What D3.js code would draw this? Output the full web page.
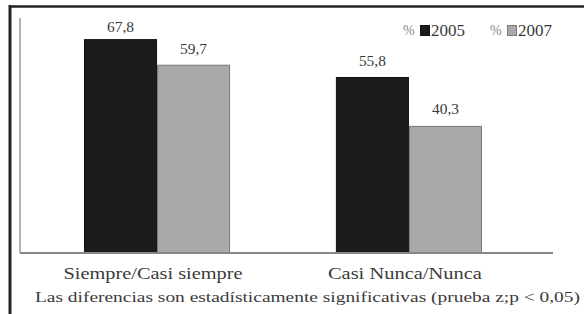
<!DOCTYPE html>
<html>
<head>
<meta charset="utf-8">
<script src="https://cdn.jsdelivr.net/npm/d3@7"></script>
<style>
  html, body { margin: 0; padding: 0; background: #fff; }
  svg { display: block; }
</style>
</head>
<body>
<div id="chart"></div>
<script>
// Chart data
const categories = ['Siempre/Casi siempre', 'Casi Nunca/Nunca'];
const seriesNames = ['2005', '2007'];
const values2005 = [67.8, 55.8];
const values2007 = [59.7, 40.3];
const note = 'Las diferencias son estadísticamente significativas (prueba z;p < 0,05)';

const width = 584;
const height = 314;
const font = '"Liberation Serif", "DejaVu Serif", serif';
const textColor = '#3a3a3a';
const colors = { '2005': '#1c1c1c', '2007': '#a9a9a9' };
const strokes = { '2005': '#111', '2007': '#7a7a7a' };
// gap between a bar top and its value label (as in the original)
const labelGap = { '2005': [7, 11], '2007': [11, 12] };

const data = categories.map((c, i) => ({
  category: c,
  values: [
    { series: '2005', value: values2005[i], i },
    { series: '2007', value: values2007[i], i }
  ]
}));

const svg = d3.select('#chart')
  .append('svg')
  .attr('width', width)
  .attr('height', height);

// outer frame (top and left edges only are visible)
svg.append('line')
  .attr('x1', 10).attr('x2', width).attr('y1', 6.5).attr('y2', 6.5)
  .attr('stroke', '#222').attr('stroke-width', 2.5);
svg.append('line')
  .attr('x1', 10).attr('x2', 10).attr('y1', 5).attr('y2', height)
  .attr('stroke', '#222').attr('stroke-width', 3);

const x0 = d3.scaleBand()
  .domain(categories)
  .range([20, 553])
  .paddingInner(0.42)
  .paddingOuter(0.268)
  .align(0.474);

const x1 = d3.scaleBand()
  .domain(seriesNames)
  .range([0, x0.bandwidth()]);

const y = d3.scaleLinear()
  .domain([0, 74.5])
  .range([253, 18]);

// y axis line
svg.append('line')
  .attr('x1', 20).attr('x2', 20)
  .attr('y1', y.range()[1]).attr('y2', y(0))
  .attr('stroke', '#999').attr('stroke-width', 1.5);

const groups = svg.append('g')
  .selectAll('g')
  .data(data)
  .join('g')
  .attr('transform', d => `translate(${x0(d.category)},0)`);

groups.selectAll('rect')
  .data(d => d.values)
  .join('rect')
  .attr('x', d => x1(d.series) + 0.5)
  .attr('y', d => y(d.value) + 0.5)
  .attr('width', x1.bandwidth() - 1)
  .attr('height', d => y(0) - y(d.value) - 0.5)
  .attr('fill', d => colors[d.series])
  .attr('stroke', d => strokes[d.series])
  .attr('stroke-width', 1);

groups.selectAll('text.val')
  .data(d => d.values)
  .join('text')
  .attr('class', 'val')
  .attr('x', d => x1(d.series) + x1.bandwidth() / 2)
  .attr('y', d => y(d.value) - labelGap[d.series][d.i])
  .attr('text-anchor', 'middle')
  .attr('font-family', font)
  .attr('font-size', 14)
  .attr('textLength', 27)
  .attr('lengthAdjust', 'spacingAndGlyphs')
  .attr('fill', textColor)
  .text(d => d.value.toFixed(1).replace('.', ','));

// baseline
svg.append('line')
  .attr('x1', 20).attr('x2', 553)
  .attr('y1', y(0)).attr('y2', y(0))
  .attr('stroke', '#888').attr('stroke-width', 2);

// category labels
const catWidths = [179, 154];
svg.append('g')
  .selectAll('text')
  .data(categories)
  .join('text')
  .attr('x', d => x0(d) + x0.bandwidth() / 2 - 4)
  .attr('y', 279)
  .attr('text-anchor', 'middle')
  .attr('font-family', font)
  .attr('font-size', 16)
  .attr('textLength', (d, i) => catWidths[i])
  .attr('lengthAdjust', 'spacingAndGlyphs')
  .attr('fill', textColor)
  .text(d => d);

// note
svg.append('text')
  .attr('x', 35)
  .attr('y', 302)
  .attr('font-family', font)
  .attr('font-size', 15)
  .attr('textLength', 545)
  .attr('lengthAdjust', 'spacingAndGlyphs')
  .attr('fill', textColor)
  .text(note);

// legend
const legendX = [403, 490];
const legend = svg.append('g')
  .selectAll('g')
  .data(seriesNames)
  .join('g')
  .attr('transform', (d, i) => `translate(${legendX[i]},36)`);

legend.append('text')
  .attr('x', 0)
  .attr('y', -1)
  .attr('font-family', font)
  .attr('font-size', 14)
  .attr('fill', '#8a8a8a')
  .text('%');

legend.append('rect')
  .attr('x', 17.5)
  .attr('y', -10.5)
  .attr('width', 9)
  .attr('height', 10)
  .attr('fill', d => colors[d])
  .attr('stroke', d => strokes[d]);

legend.append('text')
  .attr('x', 28)
  .attr('y', 0)
  .attr('font-family', font)
  .attr('font-size', 17)
  .attr('fill', textColor)
  .text(d => d);
</script>
</body>
</html>
